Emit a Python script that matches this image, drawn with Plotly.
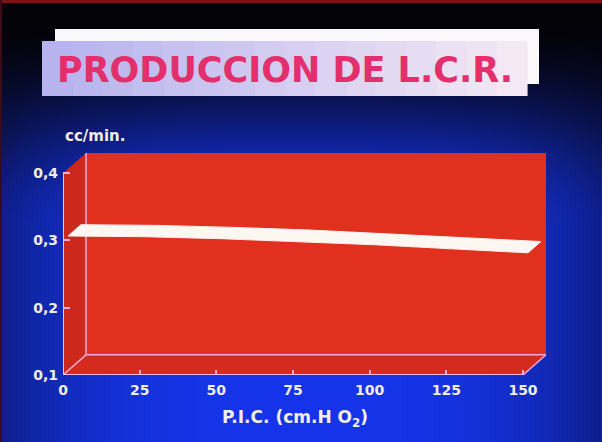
import base64, struct, zlib
import numpy as np
import plotly.graph_objects as go

# ---------------- data ----------------
PIC_VALUES = [0, 25, 50, 75, 100, 125, 150]                 # P.I.C. (cm H2O)
LCR_PRODUCTION = [0.300, 0.299, 0.296, 0.292, 0.287, 0.281, 0.275]  # cc/min
X_TICKS = [0, 25, 50, 75, 100, 125, 150]
X_TICK_LABELS = ["0", "25", "50", "75", "100", "125", "150"]
Y_TICKS = [0.1, 0.2, 0.3, 0.4]
Y_TICK_LABELS = ["0,1", "0,2", "0,3", "0,4"]
TITLE = "PRODUCCION DE L.C.R."
Y_UNIT = "cc/min."
X_TITLE = "P.I.C. (cm.H O<sub>2</sub>)"

# ---------------- geometry / style ----------------
W, H = 602, 442
ML, MR, MT, MB = 63, 56, 153, 67
PW, PH = W - ML - MR, H - MT - MB
XMIN, XMAX, YMIN, YMAX = 0, 150, 0.1, 0.4
DX, DY = 7.5, 0.03          # 3-D depth offset in data units
RIB_FRONT, RIB_BACK = 0.22, 0.78

RED_BACK = "#e2301f"
RED_SIDE = "#cc291c"
RED_FLOOR = "#d42b1e"
PINK = "#f2a8d8"
CREAM = "#f4ede2"
FONT = "DejaVu Sans"


def px(x):
    return (x - ML) / PW


def py(y):
    return (H - MB - y) / PH


# ---------------- background gradient image ----------------
def png_uri(rgb):
    h, w, _ = rgb.shape
    raw = b"".join(b"\x00" + rgb[r].astype(np.uint8).tobytes() for r in range(h))

    def chunk(tag, data):
        c = struct.pack(">I", len(data)) + tag + data
        return c + struct.pack(">I", zlib.crc32(tag + data) & 0xFFFFFFFF)

    png = b"\x89PNG\r\n\x1a\n" + chunk(b"IHDR", struct.pack(">IIBBBBB", w, h, 8, 2, 0, 0, 0)) \
        + chunk(b"IDAT", zlib.compress(raw, 9)) + chunk(b"IEND", b"")
    return "data:image/png;base64," + base64.b64encode(png).decode()


GW, GH = 121, 89
gx = (np.arange(GW) + 0.5) / GW * W
gy = (np.arange(GH) + 0.5) / GH * H
t = np.clip((gy - 15) / 215, 0, 1)
v = t * t * (3 - 2 * t)
u = np.abs((gx - 301) / 301)
hh = 1 - 0.42 * u ** 3
full = np.array([18, 50, 226], dtype=float)
img = v[:, None, None] * hh[None, :, None] * full[None, None, :]
img += np.array([4, 3, 8])[None, None, :]
img = np.clip(img, 0, 255)
bg_uri = png_uri(img)

fig = go.Figure()

# ribbon (3-D line) built from the data
fx = [x + RIB_FRONT * DX for x in PIC_VALUES]
fy = [y + RIB_FRONT * DY for y in LCR_PRODUCTION]
bx = [x + RIB_BACK * DX for x in PIC_VALUES]
by = [y + RIB_BACK * DY for y in LCR_PRODUCTION]
fig.add_trace(go.Scatter(
    x=fx + bx[::-1] + [fx[0]], y=fy + by[::-1] + [fy[0]],
    mode="lines", fill="toself", fillcolor="#fdf7f2",
    line=dict(color="#fbeff0", width=1), hoverinfo="skip", showlegend=False))

shapes = []
# frame strips
shapes.append(dict(type="rect", xref="paper", yref="paper", x0=px(0), x1=px(W), y0=py(0), y1=py(3),
                   fillcolor="#781414", line_width=0, layer="below"))
shapes.append(dict(type="rect", xref="paper", yref="paper", x0=px(0), x1=px(2), y0=py(0), y1=py(H),
                   fillcolor="#3a0c18", line_width=0, layer="below"))
# title boxes
shapes.append(dict(type="rect", xref="paper", yref="paper", x0=px(55), x1=px(539), y0=py(29), y1=py(84),
                   fillcolor="#fbf8fb", line_width=0, layer="below"))
NS = 16
c0 = np.array([180, 178, 238]); c1 = np.array([246, 234, 244])
for i in range(NS):
    a = 42 + (527 - 42) * i / NS
    b = 42 + (527 - 42) * (i + 1) / NS
    c = c0 + (c1 - c0) * (i + 0.5) / NS
    shapes.append(dict(type="rect", xref="paper", yref="paper", x0=px(a), x1=px(b + 0.6),
                       y0=py(41), y1=py(96), fillcolor="rgb(%d,%d,%d)" % tuple(c.astype(int)),
                       line_width=0, layer="below"))

# 3-D walls
shapes.append(dict(type="rect", xref="x", yref="y", x0=DX, x1=XMAX + DX, y0=YMIN + DY, y1=YMAX + DY,
                   fillcolor=RED_BACK, line_width=0, layer="below"))
shapes.append(dict(type="path", xref="x", yref="y",
                   path=f"M 0,{YMIN} L 0,{YMAX} L {DX},{YMAX + DY} L {DX},{YMIN + DY} Z",
                   fillcolor=RED_SIDE, line_width=0, layer="below"))
shapes.append(dict(type="path", xref="x", yref="y",
                   path=f"M 0,{YMIN} L {DX},{YMIN + DY} L {XMAX + DX},{YMIN + DY} L {XMAX},{YMIN} Z",
                   fillcolor=RED_FLOOR, line_width=0, layer="below"))
for (x0, y0, x1, y1) in [(DX, YMIN + DY, DX, YMAX + DY), (DX, YMIN + DY, XMAX + DX, YMIN + DY),
                         (0, YMIN, DX, YMIN + DY), (XMAX, YMIN, XMAX + DX, YMIN + DY)]:
    shapes.append(dict(type="line", xref="x", yref="y", x0=x0, y0=y0, x1=x1, y1=y1,
                       line=dict(color=PINK, width=1.5), layer="below"))
# front axes
for (x0, y0, x1, y1) in [(0, YMIN, 0, YMAX), (0, YMIN, XMAX, YMIN)]:
    shapes.append(dict(type="line", xref="x", yref="y", x0=x0, y0=y0, x1=x1, y1=y1,
                       line=dict(color="#f6bde4", width=2), layer="above"))

annotations = [
    dict(text=TITLE, xref="paper", yref="paper", x=px(285), y=py(70), xanchor="center", yanchor="middle",
         showarrow=False, font=dict(family=FONT, size=35, color="#e3306c", weight="bold")),
    dict(text=Y_UNIT, xref="paper", yref="paper", x=px(63), y=py(136), xanchor="left", yanchor="middle",
         showarrow=False, font=dict(family=FONT, size=15, color=CREAM, weight="bold")),
    dict(text=X_TITLE, xref="paper", yref="paper", x=px(295), y=py(418), xanchor="center", yanchor="middle",
         showarrow=False, font=dict(family=FONT, size=17, color=CREAM, weight="bold")),
]

fig.update_layout(
    width=W, height=H, margin=dict(l=ML, r=MR, t=MT, b=MB, pad=0),
    paper_bgcolor="#0a1a9a", plot_bgcolor="rgba(0,0,0,0)",
    showlegend=False, shapes=shapes, annotations=annotations,
    images=[dict(source=bg_uri, xref="paper", yref="paper", x=px(0), y=py(0),
                 sizex=W / PW, sizey=H / PH, xanchor="left", yanchor="top",
                 sizing="stretch", layer="below")],
    xaxis=dict(range=[XMIN, XMAX + DX], showgrid=False, zeroline=False, showline=False,
               tickmode="array", tickvals=X_TICKS, ticktext=X_TICK_LABELS,
               ticks="inside", ticklen=5, tickwidth=1.5, tickcolor=PINK,
               tickfont=dict(family=FONT, size=14, color=CREAM, weight="bold"),
               ticklabelstandoff=5, fixedrange=True, automargin=False),
    yaxis=dict(range=[YMIN, YMAX + DY], showgrid=False, zeroline=False, showline=False,
               tickmode="array", tickvals=Y_TICKS, ticktext=Y_TICK_LABELS,
               ticks="inside", ticklen=7, tickwidth=1.5, tickcolor=PINK,
               tickfont=dict(family=FONT, size=14, color=CREAM, weight="bold"),
               ticklabelstandoff=4, fixedrange=True, automargin=False),
)

fig.write_html("out.html", config={"displayModeBar": False},
               post_script="document.body.style.margin='0';document.body.style.overflow='hidden';")
